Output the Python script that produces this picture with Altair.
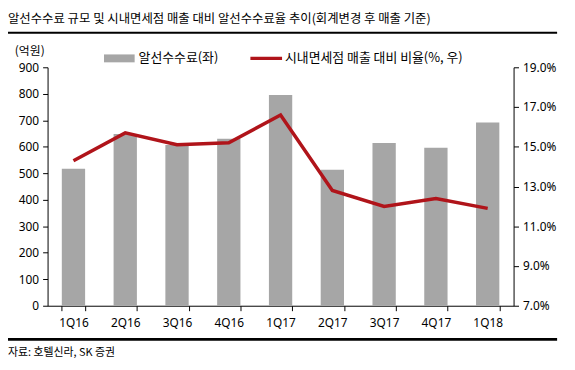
import altair as alt
import pandas as pd

quarters = ["1Q16", "2Q16", "3Q16", "4Q16", "1Q17", "2Q17", "3Q17", "4Q17", "1Q18"]
fees = [517, 648, 607, 630, 795, 513, 614, 596, 692]
ratio = [14.3, 15.7, 15.1, 15.2, 16.6, 12.8, 12.0, 12.4, 11.9]
left_ticks = list(range(0, 1000, 100))
right_ticks = [7, 9, 11, 13, 15, 17, 19]

title_text = "알선수수료 규모 및 시내면세점 매출 대비 알선수수료율 추이(회계변경 후 매출 기준)"
source_text = "자료: 호텔신라, SK 증권"
unit_text = "(억원)"
legend_bar = "알선수수료(좌)"
legend_line = "시내면세점 매출 대비 비율(%, 우)"

KR = "Noto Sans CJK KR"
NUM = "Noto Sans"
BAR_C = "#a6a6a6"
LINE_C = "#b0141a"

df = pd.DataFrame({"q": quarters, "fee": fees, "ratio": ratio})
dummy = pd.DataFrame({"a": [0]})

x = alt.X(
    "q:N", sort=quarters, title=None,
    scale=alt.Scale(paddingInner=0.55, paddingOuter=0.275),
    axis=alt.Axis(labelAngle=0, tickBand="extent", domainColor="black", tickColor="black",
                  tickSize=5, labelPadding=7, labelFont=NUM, labelFontSize=12,
                  labelColor="black", grid=False),
)

bars = alt.Chart(df).mark_bar(color=BAR_C).encode(
    x=x,
    y=alt.Y("fee:Q", title=None, scale=alt.Scale(domain=[0, 900], nice=False),
            axis=alt.Axis(values=left_ticks, orient="left", domainColor="black", tickColor="black",
                          tickSize=5, labelFont=NUM, labelFontSize=12, labelColor="black",
                          labelPadding=4, grid=False)),
)

line = alt.Chart(df).mark_line(color=LINE_C, strokeWidth=3.5).encode(
    x=alt.X("q:N", sort=quarters),
    y=alt.Y("ratio:Q", title=None, scale=alt.Scale(domain=[7, 19], nice=False),
            axis=alt.Axis(values=right_ticks, orient="right", domainColor="black", tickColor="black",
                          tickSize=5, labelFont=NUM, labelFontSize=12, labelColor="black",
                          labelPadding=4, grid=False,
                          labelExpr="format(datum.value, '.1f') + '%'")),
)


def txt(text, xv, yv, size, font=KR, align="left", weight="normal"):
    return alt.Chart(dummy).mark_text(
        text=text, align=align, baseline="middle", font=font, fontSize=size,
        color="black", fontWeight=weight,
    ).encode(x=alt.value(xv), y=alt.value(yv))


def hrule(yv, width):
    return alt.Chart(dummy).mark_rule(color="black", strokeWidth=width).encode(
        x=alt.value(-40), x2=alt.value(515), y=alt.value(yv))


title = txt(title_text, -40, -49, 12.5)
source = txt(source_text, -40, 289, 11)
unit = txt(unit_text, -18, -16, 12, align="center")
leg_rect = alt.Chart(dummy).mark_rect(color=BAR_C).encode(
    x=alt.value(57), x2=alt.value(88), y=alt.value(-13), y2=alt.value(-5))
leg_line = alt.Chart(dummy).mark_rule(color=LINE_C, strokeWidth=3.5).encode(
    x=alt.value(205), x2=alt.value(237), y=alt.value(-9))
leg_t1 = txt(legend_bar, 92, -9, 13)
leg_t2 = txt(legend_line, 240, -9, 13)

main = alt.layer(bars, line).resolve_scale(y="independent")

chart = alt.layer(
    main, hrule(-35, 2), hrule(275, 3), title, source, unit,
    leg_rect, leg_line, leg_t1, leg_t2,
).properties(
    width=471, height=241,
    padding={"left": 40, "top": 58, "right": 54, "bottom": 60},
    autosize="none",
).configure_view(stroke=None)

chart.save("out.html", embed_options={"renderer": "svg", "actions": False})
